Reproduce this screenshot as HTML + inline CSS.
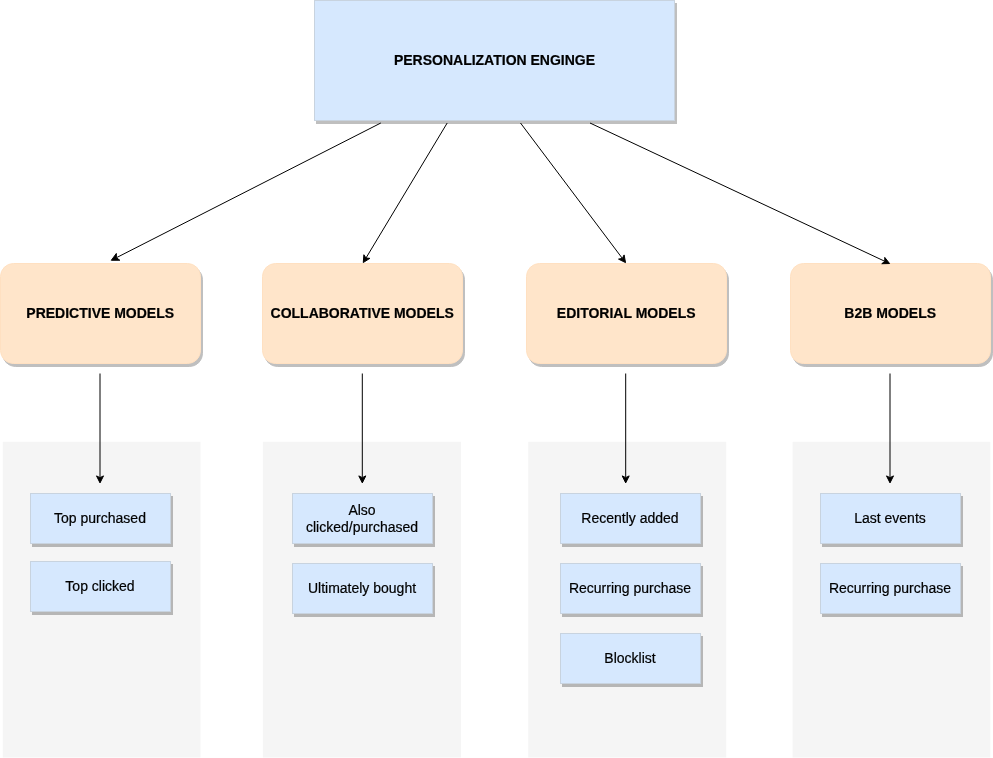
<!DOCTYPE html>
<html><head><meta charset="utf-8"><title>Personalization Engine</title>
<style>
html,body{margin:0;padding:0;background:#fff;overflow:hidden}
svg{display:block;will-change:transform}
text{font-family:"Liberation Sans",Helvetica,Arial,sans-serif;font-size:14px;fill:#000;text-anchor:middle;stroke:#000;stroke-width:0.2px}
</style></head><body>
<svg width="993" height="758" viewBox="0 0 993 758">
<rect x="2.8" y="441.8" width="197.7" height="315.7" fill="#f5f5f5"/>
<rect x="262.9" y="441.8" width="198.1" height="315.7" fill="#f5f5f5"/>
<rect x="528.25" y="441.8" width="198" height="315.7" fill="#f5f5f5"/>
<rect x="792.6" y="441.8" width="197.7" height="315.7" fill="#f5f5f5"/>
<rect x="316.5" y="3.5" width="360" height="120" fill="#000" stroke="#000" opacity="0.25"/>
<rect x="314.5" y="0.5" width="360" height="120" fill="#d6e8fe" stroke="#c8d3df"/>
<text x="494.5" y="65" font-weight="bold">PERSONALIZATION ENGINGE</text>
<rect x="2.5" y="266.5" width="200" height="100" rx="13" ry="13" fill="#000" stroke="#000" opacity="0.25"/>
<rect x="0.5" y="263.5" width="200" height="100" rx="13" ry="13" fill="#ffe5ca" stroke="#ffe0c1"/>
<text x="100.2" y="318" font-weight="bold">PREDICTIVE MODELS</text>
<rect x="264.5" y="266.5" width="200" height="100" rx="13" ry="13" fill="#000" stroke="#000" opacity="0.25"/>
<rect x="262.5" y="263.5" width="200" height="100" rx="13" ry="13" fill="#ffe5ca" stroke="#ffe0c1"/>
<text x="362.2" y="318" font-weight="bold">COLLABORATIVE MODELS</text>
<rect x="528.5" y="266.5" width="200" height="100" rx="13" ry="13" fill="#000" stroke="#000" opacity="0.25"/>
<rect x="526.5" y="263.5" width="200" height="100" rx="13" ry="13" fill="#ffe5ca" stroke="#ffe0c1"/>
<text x="626.2" y="318" font-weight="bold">EDITORIAL MODELS</text>
<rect x="792.5" y="266.5" width="200" height="100" rx="13" ry="13" fill="#000" stroke="#000" opacity="0.25"/>
<rect x="790.5" y="263.5" width="200" height="100" rx="13" ry="13" fill="#ffe5ca" stroke="#ffe0c1"/>
<text x="890.2" y="318" font-weight="bold">B2B MODELS</text>
<path d="M380.80 123.00L116.38 257.71" fill="none" stroke="#000"/>
<path d="M111.30 260.29L116.34 253.46L116.38 257.71L119.79 260.23Z" fill="#000" stroke="#000" stroke-miterlimit="10"/>
<path d="M447.20 123.00L365.98 258.04" fill="none" stroke="#000"/>
<path d="M363.28 262.54L363.88 254.74L365.98 258.04L369.88 258.35Z" fill="#000" stroke="#000" stroke-miterlimit="10"/>
<path d="M520.50 123.00L622.37 258.41" fill="none" stroke="#000"/>
<path d="M625.53 262.61L618.52 259.12L622.37 258.41L624.12 254.91Z" fill="#000" stroke="#000" stroke-miterlimit="10"/>
<path d="M590.00 123.00L884.83 261.30" fill="none" stroke="#000"/>
<path d="M889.59 263.53L881.76 263.72L884.83 261.30L884.74 257.38Z" fill="#000" stroke="#000" stroke-miterlimit="10"/>
<path d="M100.00 373.50L100.00 477.63" fill="none" stroke="#000"/>
<path d="M100.00 482.88L96.50 475.88L100.00 477.63L103.50 475.88Z" fill="#000" stroke="#000" stroke-miterlimit="10"/>
<path d="M362.30 373.50L362.30 477.63" fill="none" stroke="#000"/>
<path d="M362.30 482.88L358.80 475.88L362.30 477.63L365.80 475.88Z" fill="#000" stroke="#000" stroke-miterlimit="10"/>
<path d="M625.70 373.50L625.70 477.63" fill="none" stroke="#000"/>
<path d="M625.70 482.88L622.20 475.88L625.70 477.63L629.20 475.88Z" fill="#000" stroke="#000" stroke-miterlimit="10"/>
<path d="M890.00 373.50L890.00 477.63" fill="none" stroke="#000"/>
<path d="M890.00 482.88L886.50 475.88L890.00 477.63L893.50 475.88Z" fill="#000" stroke="#000" stroke-miterlimit="10"/>
<rect x="32.5" y="496.5" width="140" height="50" fill="#000" stroke="#000" opacity="0.25"/>
<rect x="30.5" y="493.5" width="140" height="50" fill="#d6e8fe" stroke="#c8d3df"/>
<text x="100.0" y="523.3">Top purchased</text>
<rect x="32.5" y="564.5" width="140" height="50" fill="#000" stroke="#000" opacity="0.25"/>
<rect x="30.5" y="561.5" width="140" height="50" fill="#d6e8fe" stroke="#c8d3df"/>
<text x="100.0" y="591.3">Top clicked</text>
<rect x="294.5" y="496.5" width="140" height="50" fill="#000" stroke="#000" opacity="0.25"/>
<rect x="292.5" y="493.5" width="140" height="50" fill="#d6e8fe" stroke="#c8d3df"/>
<text x="362.0" y="515.1">Also</text>
<text x="362.0" y="531.9">clicked/purchased</text>
<rect x="294.5" y="566.5" width="140" height="50" fill="#000" stroke="#000" opacity="0.25"/>
<rect x="292.5" y="563.5" width="140" height="50" fill="#d6e8fe" stroke="#c8d3df"/>
<text x="362.0" y="593.3">Ultimately bought</text>
<rect x="562.5" y="496.5" width="140" height="50" fill="#000" stroke="#000" opacity="0.25"/>
<rect x="560.5" y="493.5" width="140" height="50" fill="#d6e8fe" stroke="#c8d3df"/>
<text x="630.0" y="523.3">Recently added</text>
<rect x="562.5" y="566.5" width="140" height="50" fill="#000" stroke="#000" opacity="0.25"/>
<rect x="560.5" y="563.5" width="140" height="50" fill="#d6e8fe" stroke="#c8d3df"/>
<text x="630.0" y="593.3">Recurring purchase</text>
<rect x="562.5" y="636.5" width="140" height="50" fill="#000" stroke="#000" opacity="0.25"/>
<rect x="560.5" y="633.5" width="140" height="50" fill="#d6e8fe" stroke="#c8d3df"/>
<text x="630.0" y="663.3">Blocklist</text>
<rect x="822.5" y="496.5" width="140" height="50" fill="#000" stroke="#000" opacity="0.25"/>
<rect x="820.5" y="493.5" width="140" height="50" fill="#d6e8fe" stroke="#c8d3df"/>
<text x="890.0" y="523.3">Last events</text>
<rect x="822.5" y="566.5" width="140" height="50" fill="#000" stroke="#000" opacity="0.25"/>
<rect x="820.5" y="563.5" width="140" height="50" fill="#d6e8fe" stroke="#c8d3df"/>
<text x="890.0" y="593.3">Recurring purchase</text>
</svg>
</body></html>
